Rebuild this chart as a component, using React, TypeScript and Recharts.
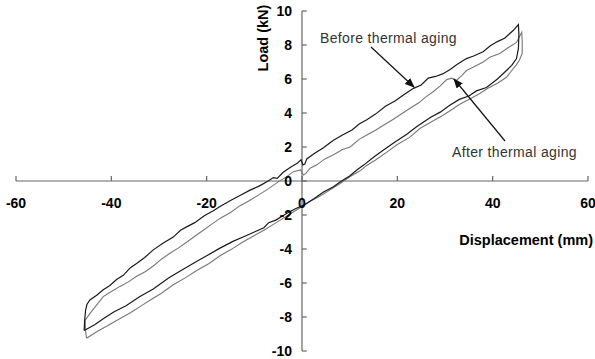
import React from 'react';
import { LineChart, Line, XAxis, YAxis, ReferenceLine, ReferenceDot } from 'recharts';

// Before thermal aging loop (displacement mm, load kN), traced in drawing order
const beforeX = [
  -45.7, -45.6, -45.4, -45.1, -44.5, -43.0, -41.7, -40.3, -38.9, -37.5, -36.0, -34.7, -33.0, -31.2, -29.1, -27.0, -25.5, -24.2,
  -22.5, -20.5, -18.6, -17.2, -15.0, -13.0, -11.0, -9.0, -7.1, -6.0, -5.2, -4.0, -2.5, -1.0, -0.2, 0.2, 0.6, 1.0, 2.5, 4.5,
  6.6, 8.5, 10.5, 12.0, 13.6, 15.5, 17.5, 19.5, 21.5, 23.4, 25.0, 26.5, 28.0, 29.5, 31.0, 32.5, 34.5, 36.0, 38.0, 39.5, 41.0,
  42.5, 44.3, 45.4,
  45.5, 45.4, 45.0, 44.0, 42.5, 41.0, 38.7, 36.6, 35.0, 33.0, 31.0, 29.0, 27.0, 24.1, 22.0, 19.5, 17.1, 15.0, 13.0, 11.5,
  10.0, 8.3, 6.5, 4.5, 2.5, 0.5, -1.5, -3.5, -5.5, -7.0, -8.0, -10.0, -12.0, -14.5, -17.2, -20.0, -22.5, -25.0, -28.0,
  -31.2, -34.0, -37.0, -39.5, -41.7, -43.5, -45.7,
];
const beforeY = [
  -8.8, -8.2, -7.6, -7.25, -7.0, -6.7, -6.4, -6.15, -5.8, -5.55, -5.1, -4.85, -4.5, -4.05, -3.65, -3.3, -2.9, -2.7,
  -2.45, -2.05, -1.75, -1.5, -1.15, -0.85, -0.55, -0.3, 0.0, 0.2, 0.15, 0.5, 0.8, 1.05, 1.25, 0.95, 1.0, 1.3, 1.6, 1.95,
  2.4, 2.7, 3.0, 3.35, 3.6, 3.95, 4.4, 4.7, 5.1, 5.45, 5.65, 6.05, 6.15, 6.3, 6.55, 6.85, 7.2, 7.35, 7.6, 7.95, 8.2,
  8.4, 8.85, 9.2,
  8.6, 7.8, 7.2, 6.8, 6.4, 6.0, 5.5, 5.3, 5.0, 4.8, 4.45, 4.05, 3.75, 3.2, 2.75, 2.3, 1.82, 1.4, 0.95, 0.65,
  0.3, 0.0, -0.35, -0.65, -1.05, -1.4, -1.65, -1.95, -2.3, -2.45, -2.75, -3.0, -3.25, -3.55, -3.95, -4.4, -4.8, -5.2, -5.7,
  -6.35, -6.8, -7.35, -7.7, -8.1, -8.45, -8.8,
];

// After thermal aging loop
const afterX = [
  -45.2, -45.4, -45.5, -44.5, -43.4, -41.7, -40.0, -38.2, -36.5, -34.7, -33.0, -31.2, -29.5, -27.7, -26.0, -24.2, -22.5,
  -20.7, -19.0, -17.2, -15.0, -13.0, -11.0, -9.0, -7.0, -5.0, -3.5, -1.8, -0.3, 0.3, 0.8, 1.7, 3.1, 4.8, 6.6, 8.5, 10.1,
  12.0, 13.6, 15.5, 17.5, 19.0, 20.6, 22.5, 24.5, 26.0, 27.5, 29.0, 30.3, 31.4, 32.3, 33.5, 34.5, 36.0, 38.0, 39.5, 41.5,
  43.3, 45.0, 46.1,
  46.2, 46.2, 45.6, 45.0, 44.0, 42.9, 41.0, 39.0, 37.3, 35.0, 33.0, 31.7, 29.5, 27.0, 24.8, 22.5, 20.0, 17.8, 15.5, 13.5,
  12.2, 10.0, 8.0, 6.0, 4.0, 2.0, 0.0, -2.0, -4.0, -6.0, -8.0, -10.0, -12.5, -15.0, -17.2, -19.5, -22.0, -24.5, -27.0,
  -29.5, -31.2, -33.5, -36.0, -38.5, -41.0, -43.0, -45.2,
];
const afterY = [
  -9.25, -8.8, -8.2, -7.8, -7.4, -6.8, -6.5, -6.2, -5.95, -5.6, -5.35, -5.0, -4.6, -4.25, -3.95, -3.6, -3.25,
  -2.9, -2.55, -2.2, -1.85, -1.45, -1.15, -0.8, -0.45, -0.05, 0.2, 0.55, 0.65, 0.35, 0.45, 0.75, 0.95, 1.3, 1.55, 1.85, 2.0,
  2.45, 2.7, 3.0, 3.35, 3.6, 3.9, 4.25, 4.6, 4.95, 5.25, 5.6, 5.95, 6.05, 5.9, 6.2, 6.5, 6.7, 7.0, 7.3, 7.5,
  7.85, 8.15, 8.75,
  8.2, 7.5, 7.1, 6.85, 6.5, 6.1, 5.75, 5.45, 5.15, 4.8, 4.5, 4.25, 3.85, 3.45, 3.1, 2.55, 2.15, 1.7, 1.25, 0.9,
  0.6, 0.25, -0.15, -0.5, -0.85, -1.15, -1.5, -1.85, -2.2, -2.55, -2.9, -3.2, -3.6, -4.05, -4.4, -4.85, -5.25, -5.7, -6.1,
  -6.6, -6.9, -7.3, -7.75, -8.15, -8.55, -8.85, -9.25,
];

const xTicks = [-60, -40, -20, 0, 20, 40, 60];
const yTicks = [-10, -8, -6, -4, -2, 0, 2, 4, 6, 8, 10];

const xLabel = 'Displacement (mm)';
const yLabel = 'Load (kN)';
const beforeLabel = 'Before thermal aging';
const afterLabel = 'After thermal aging';

const beforeData = beforeX.map((x, i) => ({ x, y: beforeY[i] }));
const afterData = afterX.map((x, i) => ({ x, y: afterY[i] }));

const FONT = 'Arial, "Liberation Sans", sans-serif';
const AXIS = '#666';

export default function App() {
  return (
    <div style={{ position: 'absolute', left: 0, top: 0, width: 595, height: 359, background: '#fff' }}>
      <LineChart width={595} height={359} margin={{ top: 11, right: 7, bottom: 8, left: 16 }}>
        <XAxis dataKey="x" type="number" domain={[-60, 60]} hide allowDataOverflow />
        <YAxis type="number" domain={[-10, 10]} hide allowDataOverflow />
        <ReferenceLine x={0} stroke={AXIS} strokeWidth={1.2} ifOverflow="visible" />
        <ReferenceLine y={0} stroke={AXIS} strokeWidth={1.2} ifOverflow="visible" />
        {xTicks.map((t) => (
          <ReferenceLine key={'xt' + t} segment={[{ x: t, y: 0 }, { x: t, y: 0.3 }]} stroke={AXIS} strokeWidth={1.2} ifOverflow="visible" />
        ))}
        {yTicks.map((t) => (
          <ReferenceLine key={'yt' + t} segment={[{ x: 0, y: t }, { x: 1.0, y: t }]} stroke={AXIS} strokeWidth={1.2} ifOverflow="visible" />
        ))}
        {xTicks.map((t) => (
          <ReferenceDot
            key={'xl' + t}
            x={t}
            y={0}
            r={0}
            ifOverflow="visible"
            shape={(p: any) => (
              <text x={p.cx} y={p.cy + 27} textAnchor="middle" fontFamily={FONT} fontWeight="bold" fontSize={14} fill="#000">
                {t}
              </text>
            )}
          />
        ))}
        {yTicks.map((t) => (
          <ReferenceDot
            key={'yl' + t}
            x={0}
            y={t}
            r={0}
            ifOverflow="visible"
            shape={(p: any) => (
              <text x={p.cx - 10} y={p.cy + 5} textAnchor="end" fontFamily={FONT} fontWeight="bold" fontSize={14} fill="#000">
                {t}
              </text>
            )}
          />
        ))}
        <Line data={afterData} dataKey="y" type="linear" stroke="#777" strokeWidth={1.1} dot={false} isAnimationActive={false} />
        <Line data={beforeData} dataKey="y" type="linear" stroke="#1a1a1a" strokeWidth={1.2} dot={false} isAnimationActive={false} />
      </LineChart>
      <svg width={595} height={359} style={{ position: 'absolute', left: 0, top: 0, pointerEvents: 'none' }}>
        <defs>
          <marker id="ah" markerWidth="10" markerHeight="8" refX="9" refY="4" orient="auto" markerUnits="userSpaceOnUse">
            <path d="M0,0 L10,4 L0,8 Z" fill="#111" />
          </marker>
        </defs>
        <text x={263} y={38} transform="rotate(-90 263 38)" textAnchor="middle" dominantBaseline="central" fontFamily={FONT} fontWeight="bold" fontSize={14.5} fill="#000">
          {yLabel}
        </text>
        <text x={593} y={245} textAnchor="end" fontFamily={FONT} fontWeight="bold" fontSize={14.5} fill="#000">
          {xLabel}
        </text>
        <text x={320} y={43} fontFamily={FONT} fontSize={14} letterSpacing={0.35} fill="#333">
          {beforeLabel}
        </text>
        <text x={452} y={157} fontFamily={FONT} fontSize={14} letterSpacing={0.35} fill="#333">
          {afterLabel}
        </text>
        <line x1={371} y1={47} x2={414} y2={87} stroke="#111" strokeWidth={1.2} markerEnd="url(#ah)" />
        <line x1={505} y1={141} x2={454} y2={79} stroke="#111" strokeWidth={1.2} markerEnd="url(#ah)" />
      </svg>
    </div>
  );
}
